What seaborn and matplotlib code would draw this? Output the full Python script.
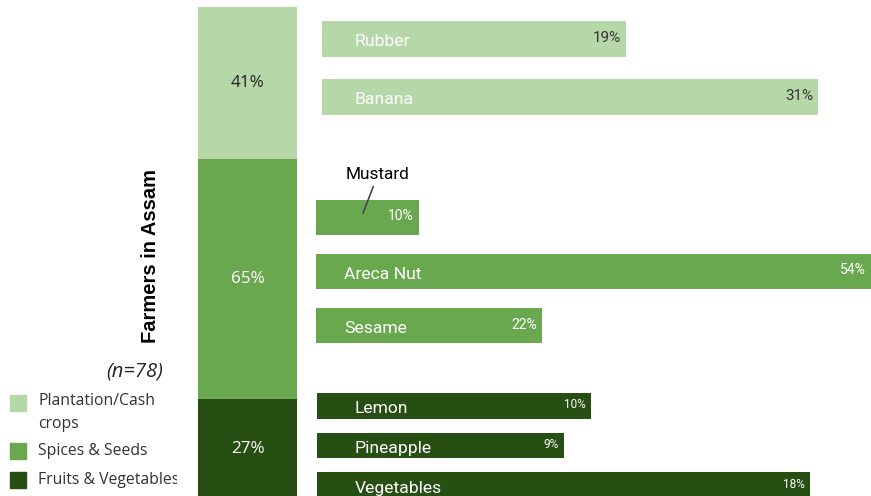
import matplotlib
matplotlib.use("Agg")
import matplotlib.pyplot as plt
from matplotlib.patches import Rectangle
import seaborn as sns
import pandas as pd

sns.set_theme(style="white")

# Share of farmers growing each crop group (multiple answers allowed)
groups = ["Plantation/Cash\ncrops", "Spices & Seeds", "Fruits & Vegetables"]
group_share = [41, 65, 27]

plantation_crops = ["Rubber", "Banana"]
plantation_share = [19, 31]

spice_crops = ["Mustard", "Areca Nut", "Sesame"]
spice_share = [10, 54, 22]

fruit_crops = ["Lemon", "Pineapple", "Vegetables"]
fruit_share = [10, 9, 18]

sample_note = "(n=78)"
axis_title = "Farmers in Assam"

colors = ["#b6d7a8", "#6aa84f", "#274e13"]

W, H = 871, 496
fig = plt.figure(figsize=(W / 100, H / 100), dpi=100)


def px_axes(left, top, right, bottom):
    return fig.add_axes([left / W, 1 - bottom / H, (right - left) / W, (bottom - top) / H])


# Stacked column of group shares
ax_col = px_axes(198, 7, 297, 499)
bottom = 0
col_text = ["#222222", "white", "white"]
for share, col, tc in zip(group_share, colors, col_text):
    ax_col.bar(0, share, bottom=bottom, width=1.0, color=col, linewidth=0)
    ax_col.text(0, bottom + share / 2, f"{share}%", ha="center", va="center",
                fontsize=12.3, family="Open Sans", color=tc)
    bottom += share
ax_col.set_xlim(-0.5, 0.5)
ax_col.set_ylim(sum(group_share), 0)
ax_col.axis("off")

# Crop bars, one panel per group with its own scale
panels = [
    (plantation_crops, plantation_share, colors[0], (322, 10, 871, 126), 0.62, 549 / 16.0,
     33, "#333333", 11, ["white", "white"]),
    (spice_crops, spice_share, colors[1], (316, 190, 871, 353), 0.64, 54.0,
     28, "white", 10, ["white", "white", "white"]),
    (fruit_crops, fruit_share, colors[2], (317, 386, 871, 505), 0.65, 554 / 27.4,
     38, "white", 8.5, ["white", "white", "white"]),
]

axes = []
for names, vals, col, box, width, xmax, pad, vcol, vsize, ncols in panels:
    ax = px_axes(*box)
    df = pd.DataFrame({"crop": names, "share": vals})
    sns.barplot(data=df, x="share", y="crop", orient="h", color=col, saturation=1,
                width=width, linewidth=0, ax=ax)
    ax.set_xlim(0, xmax)
    for i, (name, v, nc) in enumerate(zip(names, vals, ncols)):
        if name != "Mustard":
            ax.annotate(name, xy=(0, i), xytext=(pad, -3), textcoords="offset pixels",
                        ha="left", va="center", fontsize=12.6, family="Roboto", color=nc)
        ax.annotate(f"{v}%", xy=(v, i), xytext=(-5, 1), textcoords="offset pixels",
                    ha="right", va="center", fontsize=vsize, family="Roboto", color=vcol)
    ax.axis("off")
    axes.append(ax)

# Mustard label sits above its short bar with a leader line
ax_sp = axes[1]
ax_sp.annotate("Mustard", xy=(4.57, -0.07), xytext=(15, 39),
               textcoords="offset pixels", ha="center", va="center", fontsize=12.4,
               family="Roboto", color="black",
               arrowprops=dict(arrowstyle="-", color="#3c4858", lw=1.2, shrinkA=1, shrinkB=0),
               annotation_clip=False)

# Title and sample size
fig.text(150 / W, 1 - 256 / H, axis_title, rotation=90, ha="center", va="center",
         fontsize=14.5, fontweight="bold", family="Liberation Sans", color="black")
fig.text(163 / W, 1 - 372 / H, sample_note, ha="right", va="center",
         fontsize=14.5, style="italic", family="Open Sans", color="#222222")

# Legend drawn in its own clipped area
ax_leg = px_axes(0, 380, 177, 496)
ax_leg.set_xlim(0, 177)
ax_leg.set_ylim(496, 380)
ax_leg.axis("off")
leg_y = [403, 451, 480]
for label, col, y in zip(groups, colors, leg_y):
    ax_leg.add_patch(Rectangle((10, y - 8), 16, 16, color=col, clip_on=True))
    ax_leg.text(38, y - 10 if "\n" in label else y, label, ha="left",
                va="top" if "\n" in label else "center",
                fontsize=11.3, family="Open Sans", color="#333333",
                linespacing=1.55, clip_on=True)

fig.savefig("out.png", dpi=100)
